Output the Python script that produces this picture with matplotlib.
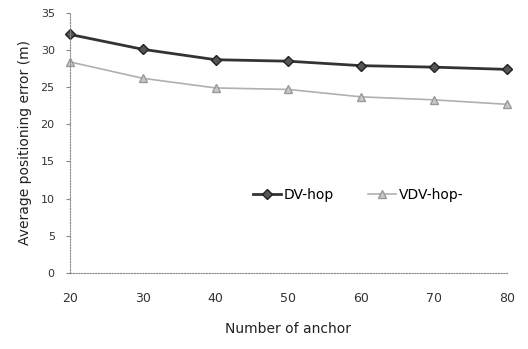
import matplotlib.pyplot as plt

anchors = [20, 30, 40, 50, 60, 70, 80]
dv_hop = [32.1, 30.1, 28.7, 28.5, 27.9, 27.7, 27.4]
vdv_hop = [28.4, 26.2, 24.9, 24.7, 23.7, 23.3, 22.7]

fig = plt.figure(figsize=(5.28, 3.49), dpi=100)
ax = fig.add_axes([0.1326, 0.218, 0.827, 0.745])

ax.plot(anchors, dv_hop, color="#333333", lw=2.0, marker="D", ms=5,
        mfc="#555555", mec="#222222", label="DV-hop", clip_on=False)
ax.plot(anchors, vdv_hop, color="#b0b0b0", lw=1.2, marker="^", ms=5.5,
        mfc="#c8c8c8", mec="#999999", label="VDV-hop-", clip_on=False)

ax.set_xlim(20, 80)
ax.set_ylim(0, 35)
ax.set_xticks(anchors)
ax.set_yticks(range(0, 36, 5))

for side in ["top", "right"]:
    ax.spines[side].set_visible(False)
for side in ["left", "bottom"]:
    ax.spines[side].set_linestyle((0, (1, 1.5)))
    ax.spines[side].set_color("#888888")
    ax.spines[side].set_linewidth(0.8)

ax.tick_params(axis="y", length=3, color="#888888", labelsize=8, labelcolor="#333333", pad=8)
ax.tick_params(axis="x", length=0, labelsize=9, labelcolor="#333333", pad=14)

ax.set_xlabel("Number of anchor", fontsize=10, color="#222222", labelpad=12)
ax.set_ylabel("Average positioning error (m)", fontsize=10, color="#222222", labelpad=6)

ax.legend(loc="center", bbox_to_anchor=(0.66, 0.30), ncol=2, frameon=False,
          fontsize=10, handlelength=2.0, handletextpad=0.2, columnspacing=2.5)

fig.savefig("out.png", dpi=100)
